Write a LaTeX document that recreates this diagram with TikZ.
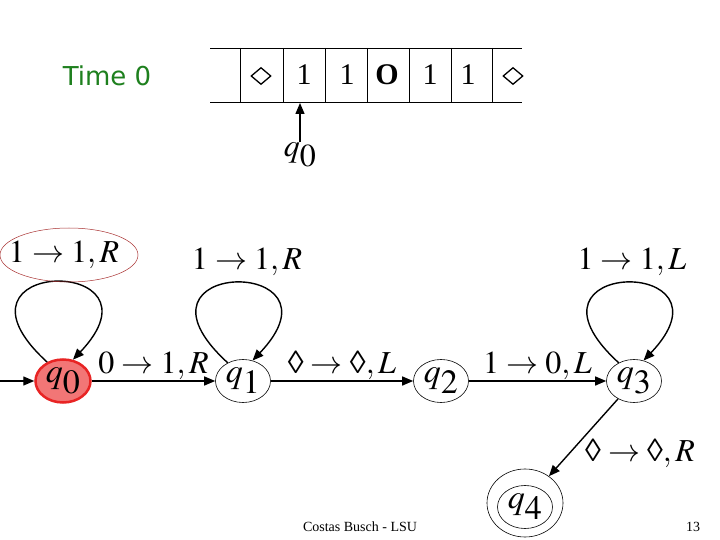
\documentclass[tikz,border=0pt]{standalone}
\usepackage{mathptmx}
\usepackage{amssymb}
\usepackage{fontspec}
\setmainfont{Liberation Serif}
\newfontfamily\timefont{DejaVu Sans}
\usetikzlibrary{arrows.meta,shapes.geometric}

\definecolor{timegreen}{RGB}{30,128,30}
\definecolor{activered}{RGB}{232,36,36}
\definecolor{activefill}{RGB}{242,118,118}
\definecolor{markred}{RGB}{168,48,48}

\newcommand{\blank}{\mbox{◊}}

\begin{document}
\begin{tikzpicture}[x=1pt, y=-1pt,
  >={Triangle[length=11pt,width=9pt]},
  state/.style={draw, ellipse, minimum width=55pt, minimum height=43pt,
                inner sep=0pt, line width=0.6pt, font=\fontsize{34}{38}\selectfont},
  active/.style={state, draw=activered, fill=activefill, line width=2.5pt},
  lbl/.style={inner sep=0pt, font=\fontsize{32}{36}\selectfont},
  cell/.style={inner sep=0pt, font=\fontsize{30}{34}\selectfont},
  blanksym/.style={draw, diamond, inner sep=0pt, minimum width=20pt,
                   minimum height=17pt, line width=1.3pt},
  trans/.style={->, line width=1.4pt},
  tape/.style={line width=0.8pt},
]
\useasboundingbox (0,0) rectangle (720,540);

% tape
\node[font=\timefont\fontsize{26}{30}\selectfont, text=timegreen] (time) at (107,76) {Time 0};
\draw[tape] (210,48) -- (522,48);
\draw[tape] (210,102) -- (522,102);
\foreach \x in {240,283,325,367,409,451,492}
  \draw[tape] (\x,48) -- (\x,102);
\node[blanksym] (c1) at (261,76) {};
\node[cell] (c2) at (304,75) {1};
\node[cell] (c3) at (347,75) {1};
\node[cell] (c4) at (387,75) {\textbf{O}};
\node[cell] (c5) at (430,75) {1};
\node[cell] (c6) at (468,75) {1};
\node[blanksym] (c7) at (513,76) {};
\coordinate (head) at (300,103);
\node[lbl] (headq) at (300,155) {$q_{\textstyle 0}$};
\draw[trans] (headq.north -| head) -- (head);

% machine
\coordinate (start) at (0,381);
\node[active] (q0) at (63,381) {$q_{\textstyle 0}$};
\node[state] (q1) at (243,381) {$q_{\textstyle 1}$};
\node[state] (q2) at (441,381) {$q_{\textstyle 2}$};
\node[state] (q3) at (634,381) {$q_{\textstyle 3}$};
\node[state] (q4) at (525,507) {$q_{\textstyle 4}$};
\node[draw, ellipse, minimum width=76pt, minimum height=68pt, line width=0.6pt] (q4ring) at (525,503) {};

\draw[trans] (start) -- (q0);
\draw[trans] (q0) -- node[lbl, above=1pt] {$0\rightarrow 1,R$} (q1);
\draw[trans] (q1) -- node[lbl, above=1pt] {$\blank\rightarrow\blank,L$} (q2);
\draw[trans] (q2) -- node[lbl, above=1pt] {$1\rightarrow 0,L$} (q3);
\draw[trans] (q3) -- (q4ring);
\node[lbl] (d34) at (640,453) {$\blank\rightarrow\blank,R$};

\draw[trans] (q0.130) .. controls +(-115,-105) and +(100,-105) .. (q0.65);
\draw[trans] (q1.130) .. controls +(-115,-105) and +(100,-105) .. (q1.65);
\draw[trans] (q3.130) .. controls +(-115,-105) and +(100,-105) .. (q3.65);
\node[lbl] (l0) at (64,255) {$1\rightarrow 1,R$};
\node[lbl] (l1) at (247,262) {$1\rightarrow 1,R$};
\node[lbl] (l3) at (632,262) {$1\rightarrow 1,L$};
\node[draw=markred, ellipse, minimum width=138pt, minimum height=54pt, line width=0.5pt] (mark) at (69,255) {};

% footer
\node[font=\fontsize{14}{16}\selectfont] (foot) at (360,527) {Costas Busch - LSU};
\node[font=\fontsize{14}{16}\selectfont] (page) at (693,527) {13};
\end{tikzpicture}
\end{document}
